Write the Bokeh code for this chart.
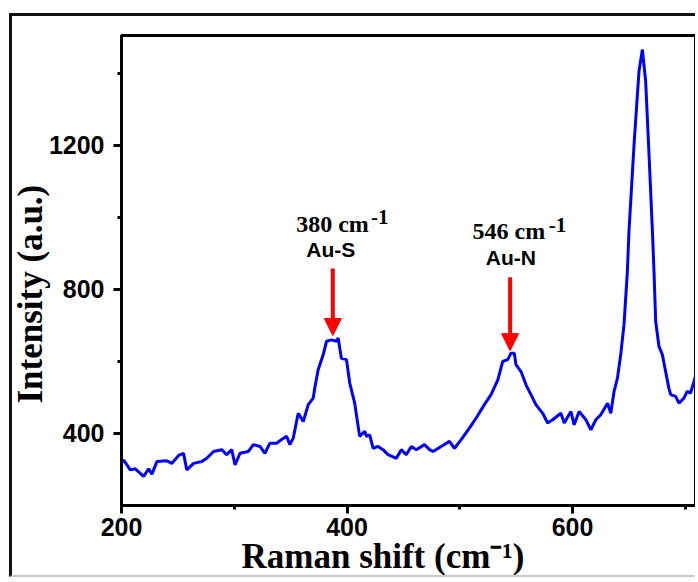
from math import pi
from bokeh.plotting import figure
from bokeh.models import Label, Arrow, NormalHead, FixedTicker, ColumnDataSource, Title
from bokeh.embed import file_html
from bokeh.resources import INLINE

# ---- data ----
raman_shift = [200, 202, 207.8, 212.2, 219.6, 224.1, 227, 231.4, 240.2, 244.7, 250.6, 255, 257.9,
               263.9, 271.2, 275.6, 281.6, 288.9, 293.3, 297.7, 300.7, 305.1, 312.5, 316.9, 322.8,
               327.2, 331.6, 337.5, 342, 346.4, 349.3, 352.3, 356.7, 361.2, 365.6, 370, 371.4, 374.4,
               378.9, 381.8, 386.2, 390.6, 392.1, 395, 399.5, 402.4, 406.8, 411.2, 415.7, 417.2,
               420.1, 423.1, 427.5, 431.9, 436.4, 443.7, 448.1, 452.5, 457, 461.4, 468.7, 473.2,
               476.2, 483.5, 490.8, 495.3, 501.2, 508.5, 514.5, 521.8, 527.7, 533.7, 538.1, 542.5,
               545.4, 548.3, 549.8, 554.3, 558.7, 563.1, 567.5, 573.5, 577.9, 582.3, 589.6, 592.6,
               598.5, 601.4, 605.8, 611.8, 616.2, 620.6, 625, 631, 633.9, 636.8, 639.8, 642.7, 645.6,
               648.6, 650, 654.5, 658.9, 661.9, 664.8, 667.8, 670.8, 672.2, 673.7, 676.6, 679.6,
               682.5, 685.4, 687, 691.4, 694.3, 698.7, 701.7, 704.6, 707.6, 710.6]
intensity = [318, 326, 299, 302, 281, 302, 287, 322, 324, 317, 339, 345, 299,
             317, 322, 331, 350, 355, 341, 355, 313, 345, 350, 369, 364,
             345, 373, 373, 383, 392, 369, 387, 456, 433, 480, 498, 526, 577,
             619, 656, 660, 656, 665, 609, 605, 540, 484, 392, 406, 392,
             396, 359, 364, 355, 341, 331, 355, 341, 364, 355, 369, 355,
             350, 364, 378, 359, 383, 415, 443, 480, 508, 549, 600, 605,
             623, 623, 591, 572, 535, 508, 480, 456, 429, 438, 456, 429,
             461, 424, 461, 438, 410, 438, 452, 484, 456, 517, 554, 619, 702,
             850, 961, 1202, 1406, 1466, 1378, 1174, 961, 850, 711, 642, 619,
             572, 526, 508, 503, 484, 498, 517, 512, 544, 577]

x_major = [200, 400, 600]
x_minor = [300, 500, 700]
y_major = [400, 800, 1200]
y_minor = [600, 1000, 1400]

peak_pos = [387.4, 544.6]          # arrow x positions (cm-1)
arrow_top = [858, 834]
arrow_tip = [672, 630]
peak_text = ["380 cm", "546 cm"]
bond_text = ["Au-S", "Au-N"]

x_title = "Raman shift (cm\u207b\u00b9)"
y_title = "Intensity (a.u.)"

# ---- figure ----
p = figure(width=686, height=564, x_range=(200, 709), y_range=(200, 1505),
           output_backend="svg", toolbar_location=None,
           min_border_left=108, min_border_right=3, min_border_top=19, min_border_bottom=75)
p.styles = {"margin-top": "13px", "margin-left": "9px",
            "border-left": "3px solid #111", "border-top": "3px solid #111",
            "border-bottom": "2px solid #c8c8c8"}
p.background_fill_color = "white"
p.border_fill_color = "white"
p.outline_line_color = "black"
p.outline_line_width = 3
p.grid.visible = False

p.xaxis.ticker = FixedTicker(ticks=x_major, minor_ticks=x_minor)
p.yaxis.ticker = FixedTicker(ticks=y_major, minor_ticks=y_minor)
for ax in (p.xaxis[0], p.yaxis[0]):
    ax.axis_line_width = 3
    ax.axis_line_color = "black"
    ax.major_tick_line_width = 3
    ax.minor_tick_line_width = 3
    ax.major_tick_line_color = "black"
    ax.minor_tick_line_color = "black"
    ax.major_tick_out = 8
    ax.major_tick_in = 0
    ax.minor_tick_out = 4
    ax.minor_tick_in = 0
    ax.major_label_text_font = "Liberation Sans"
    ax.major_label_text_font_style = "bold"
    ax.major_label_text_font_size = "25px"
    ax.major_label_text_color = "black"
p.xaxis.major_label_standoff = 4
p.yaxis.major_label_standoff = 9

src = ColumnDataSource(dict(x=raman_shift, y=intensity))
p.line("x", "y", source=src, line_color="#0000ff", line_width=3)

# arrows
for xp, yt, yb in zip(peak_pos, arrow_top, arrow_tip):
    p.add_layout(Arrow(x_start=xp, y_start=yt, x_end=xp, y_end=yb,
                       line_color="#ff0000", line_width=4,
                       end=NormalHead(size=17, fill_color="#ff0000", line_color="#ff0000", line_width=1)))

serif = "Liberation Serif"
sans = "Liberation Sans"
def lab(x, y, t, font, size, **kw):
    p.add_layout(Label(x=x, y=y, text=t, text_font=font, text_font_style="bold",
                       text_font_size=size, text_color="black", **kw))

# peak annotations
lab(354.9, 944.9, peak_text[0], serif, "24px")
lab(421.3, 982.9, "-1", serif, "21px")
lab(363.8, 880.2, bond_text[0], sans, "21px")
lab(511.3, 926.5, peak_text[1], serif, "24px")
lab(578.9, 958.8, "-1", serif, "21px")
lab(523.1, 857.1, bond_text[1], sans, "21px")

# axis titles (as side titles so they are not clipped)
p.add_layout(Title(text=x_title, align="left", offset=120, standoff=-8,
                   text_font=serif, text_font_style="bold", text_font_size="35px",
                   text_color="black"), "below")
p.add_layout(Title(text=y_title, align="left", offset=102, standoff=-8,
                   text_font=serif, text_font_style="bold", text_font_size="35px",
                   text_color="black"), "left")

open("out.html", "w").write(file_html(p, INLINE))
